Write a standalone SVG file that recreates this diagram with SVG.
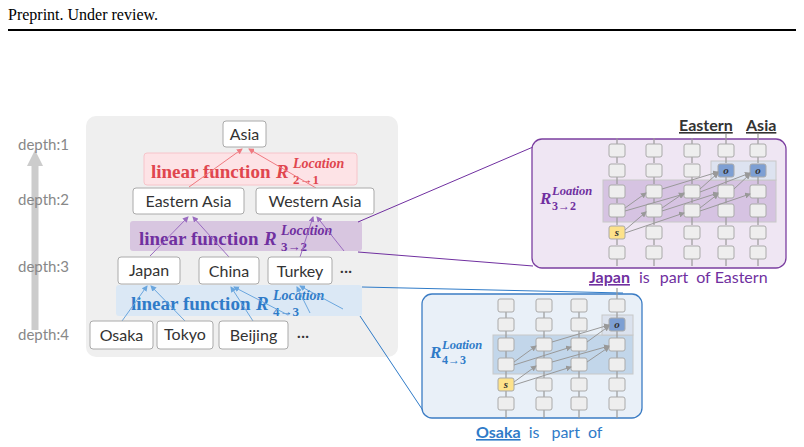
<svg xmlns="http://www.w3.org/2000/svg" width="804" height="447" viewBox="0 0 804 447">
<style>
.hdr{font-family:"Liberation Serif",serif;font-size:16px;fill:#000}
.dep{font-family:"Lato","Liberation Sans",sans-serif;font-size:15px;fill:#888}
.nd rect{fill:#fff;stroke:#aaa;stroke-width:1}
.nd text,.dots{font-family:"Lato","Liberation Sans",sans-serif;font-size:16px;fill:#333;text-anchor:middle}
.lf{font-family:"Liberation Serif",serif;font-weight:bold;font-size:19px}
.sup{font-family:"Liberation Serif",serif;font-weight:bold;font-size:14px;font-style:italic}
.sub{font-family:"Liberation Serif",serif;font-weight:bold;font-size:13px}
.gb{fill:#eee;stroke:#aaa;stroke-width:1}
.dg{stroke:#999;stroke-width:1;fill:none;marker-end:url(#ga)}
.wd{font-family:"Lato","Liberation Sans",sans-serif;font-size:16px}
</style>
<defs>
<marker id="ga" markerWidth="6" markerHeight="6" refX="5" refY="3" orient="auto"><path d="M0,0L6,3L0,6z" fill="#999"/></marker>
<marker id="ra" markerWidth="6" markerHeight="6" refX="5" refY="3" orient="auto"><path d="M0,0L6,3L0,6z" fill="#ef7a80"/></marker>
<marker id="pa" markerWidth="6" markerHeight="6" refX="5" refY="3" orient="auto"><path d="M0,0L6,3L0,6z" fill="#9a6cc0"/></marker>
<marker id="ba" markerWidth="6" markerHeight="6" refX="5" refY="3" orient="auto"><path d="M0,0L6,3L0,6z" fill="#6aa6de"/></marker>
</defs>
<rect width="804" height="447" fill="#fff"/>
<text class="hdr" x="8" y="20">Preprint. Under review.</text>
<line x1="8" y1="30" x2="796" y2="30" stroke="#000" stroke-width="2"/>

<g id="depth">
<line x1="35" y1="330" x2="35" y2="165" stroke="#ccc" stroke-width="7"/>
<polygon points="27,166 43,166 35,150" fill="#ccc"/>
<text class="dep" x="18" y="150">depth:1</text>
<text class="dep" x="18" y="205">depth:2</text>
<text class="dep" x="18" y="272">depth:3</text>
<text class="dep" x="18" y="340">depth:4</text>
</g>

<rect x="86" y="116" width="312" height="241" rx="10" fill="#efefef"/>

<g id="bands">
<rect x="144" y="153" width="213" height="32" rx="3" fill="#fde3e6" stroke="#f7c4ca"/>
<rect x="130" y="221" width="232" height="30" rx="3" fill="#d8c6e0"/>
<rect x="116" y="285" width="246" height="31" rx="3" fill="#dbe8f5"/>
<g fill="#e0464e">
<text class="lf" x="151" y="178">linear function</text>
<text class="lf" x="276" y="178" font-style="italic">R</text>
<text class="sup" x="293" y="168">Location</text>
<text class="sub" x="293" y="184">2→1</text>
</g>
<g fill="#7030a0">
<text class="lf" x="139" y="245">linear function</text>
<text class="lf" x="264" y="245" font-style="italic">R</text>
<text class="sup" x="281" y="235">Location</text>
<text class="sub" x="281" y="251">3→2</text>
</g>
<g fill="#2f7bc8">
<text class="lf" x="131" y="310">linear function</text>
<text class="lf" x="256" y="310" font-style="italic">R</text>
<text class="sup" x="273" y="300">Location</text>
<text class="sub" x="273" y="316">4→3</text>
</g>
</g>

<g id="connectors" fill="none">
<line x1="189" y1="187" x2="242" y2="149" stroke="#ef7a80" marker-end="url(#ra)"/>
<line x1="316" y1="188" x2="249" y2="149" stroke="#ef7a80" marker-end="url(#ra)"/>
<line x1="150" y1="256" x2="188" y2="217" stroke="#9a6cc0" marker-end="url(#pa)"/>
<line x1="229" y1="257" x2="193" y2="217" stroke="#9a6cc0" marker-end="url(#pa)"/>
<line x1="300" y1="257" x2="313" y2="217" stroke="#9a6cc0" marker-end="url(#pa)"/>
<line x1="344" y1="251" x2="317" y2="217" stroke="#9a6cc0" marker-end="url(#pa)"/>
<line x1="122" y1="321" x2="147" y2="286" stroke="#6aa6de" marker-end="url(#ba)"/>
<line x1="185" y1="321" x2="151" y2="286" stroke="#6aa6de" marker-end="url(#ba)"/>
<line x1="253" y1="321" x2="231" y2="287" stroke="#6aa6de" marker-end="url(#ba)"/>
<line x1="288" y1="315" x2="234" y2="287" stroke="#6aa6de" marker-end="url(#ba)"/>
<line x1="343" y1="309" x2="300" y2="286" stroke="#6aa6de" marker-end="url(#ba)"/>
<line x1="310" y1="313" x2="297" y2="287" stroke="#6aa6de" marker-end="url(#ba)"/>
<line x1="358" y1="222" x2="533" y2="147" stroke="#7030a0"/>
<line x1="358" y1="252" x2="533" y2="266" stroke="#7030a0"/>
<line x1="362" y1="287" x2="623" y2="293" stroke="#2f7bc8"/>
<line x1="360" y1="316" x2="424" y2="412" stroke="#2f7bc8"/>
</g>

<g id="n-asia" class="nd"><rect x="223" y="121" width="43" height="26" rx="3"/><text x="244.5" y="140">Asia</text></g>
<g id="n-eastern-asia" class="nd"><rect x="133" y="188" width="111" height="26" rx="3"/><text x="188.5" y="207">Eastern Asia</text></g>
<g id="n-western-asia" class="nd"><rect x="256" y="188" width="118" height="26" rx="3"/><text x="315" y="207">Western Asia</text></g>
<g id="n-japan" class="nd"><rect x="118" y="257" width="62" height="27" rx="3"/><text x="149" y="276">Japan</text></g>
<g id="n-china" class="nd"><rect x="199" y="257" width="60" height="27" rx="3"/><text x="229" y="277">China</text></g>
<g id="n-turkey" class="nd"><rect x="268" y="257" width="64" height="27" rx="3"/><text x="300" y="277">Turkey</text></g>
<text class="dots" x="346" y="276">···</text>
<g id="n-osaka" class="nd"><rect x="90" y="321" width="63" height="28" rx="3"/><text x="121.5" y="341">Osaka</text></g>
<g id="n-tokyo" class="nd"><rect x="157" y="321" width="56" height="28" rx="3"/><text x="185" y="340">Tokyo</text></g>
<g id="n-beijing" class="nd"><rect x="219" y="321" width="69" height="28" rx="3"/><text x="253.5" y="341">Beijing</text></g>
<text class="dots" x="303" y="341">···</text>

<g id="panel-purple">
<rect x="532" y="139" width="254" height="129" rx="10" fill="#efe6f3" stroke="#7b3fa0" stroke-width="1.3"/>
<rect x="603" y="180" width="173" height="42" fill="#d6c3e2" stroke="#c8c8c8"/>
<rect x="711" y="161" width="65" height="19" fill="#dde3f0" stroke="#c8c8c8"/>
<g stroke="#999" stroke-width="1.2">
<line x1="617" y1="259" x2="617" y2="266"/><line x1="654" y1="259" x2="654" y2="266"/><line x1="692" y1="259" x2="692" y2="266"/><line x1="726" y1="259" x2="726" y2="266"/><line x1="758" y1="259" x2="758" y2="266"/>
<line x1="617" y1="144" x2="617" y2="138"/><line x1="654" y1="144" x2="654" y2="138"/><line x1="692" y1="144" x2="692" y2="138"/><line x1="726" y1="144" x2="726" y2="134"/><line x1="758" y1="144" x2="758" y2="134"/>
<line x1="617" y1="157" x2="617" y2="163"/><line x1="617" y1="177" x2="617" y2="184"/><line x1="617" y1="198" x2="617" y2="203"/><line x1="617" y1="217" x2="617" y2="225"/><line x1="617" y1="239" x2="617" y2="245"/>
<line x1="654" y1="157" x2="654" y2="163"/><line x1="654" y1="177" x2="654" y2="184"/><line x1="654" y1="198" x2="654" y2="203"/><line x1="654" y1="217" x2="654" y2="225"/><line x1="654" y1="239" x2="654" y2="245"/>
<line x1="692" y1="157" x2="692" y2="163"/><line x1="692" y1="177" x2="692" y2="184"/><line x1="692" y1="198" x2="692" y2="203"/><line x1="692" y1="217" x2="692" y2="225"/><line x1="692" y1="239" x2="692" y2="245"/>
<line x1="726" y1="157" x2="726" y2="163"/><line x1="726" y1="177" x2="726" y2="184"/><line x1="726" y1="198" x2="726" y2="203"/><line x1="726" y1="217" x2="726" y2="225"/><line x1="726" y1="239" x2="726" y2="245"/>
<line x1="758" y1="157" x2="758" y2="163"/><line x1="758" y1="177" x2="758" y2="184"/><line x1="758" y1="198" x2="758" y2="203"/><line x1="758" y1="217" x2="758" y2="225"/><line x1="758" y1="239" x2="758" y2="245"/>
</g>
<g class="gb">
<rect x="609" y="144" width="16" height="13" rx="2"/><rect x="646" y="144" width="16" height="13" rx="2"/><rect x="684" y="144" width="16" height="13" rx="2"/><rect x="718" y="144" width="16" height="13" rx="2"/><rect x="750" y="144" width="16" height="13" rx="2"/>
<rect x="609" y="164" width="16" height="13" rx="2"/><rect x="646" y="164" width="16" height="13" rx="2"/><rect x="684" y="164" width="16" height="13" rx="2"/>
<rect x="609" y="185" width="16" height="13" rx="2"/><rect x="646" y="185" width="16" height="13" rx="2"/><rect x="684" y="185" width="16" height="13" rx="2"/><rect x="718" y="185" width="16" height="13" rx="2"/><rect x="750" y="185" width="16" height="13" rx="2"/>
<rect x="609" y="204" width="16" height="13" rx="2"/><rect x="646" y="204" width="16" height="13" rx="2"/><rect x="684" y="204" width="16" height="13" rx="2"/><rect x="718" y="204" width="16" height="13" rx="2"/><rect x="750" y="204" width="16" height="13" rx="2"/>
<rect x="646" y="226" width="16" height="13" rx="2"/><rect x="684" y="226" width="16" height="13" rx="2"/><rect x="718" y="226" width="16" height="13" rx="2"/><rect x="750" y="226" width="16" height="13" rx="2"/>
<rect x="609" y="246" width="16" height="13" rx="2"/><rect x="646" y="246" width="16" height="13" rx="2"/><rect x="684" y="246" width="16" height="13" rx="2"/><rect x="718" y="246" width="16" height="13" rx="2"/><rect x="750" y="246" width="16" height="13" rx="2"/>
</g>
<rect x="609" y="226" width="16" height="13" rx="2" fill="#fde28a" stroke="#aaa"/>
<rect x="718" y="164" width="16" height="13" rx="2" fill="#7d9fd3" stroke="#aaa"/>
<rect x="750" y="164" width="16" height="13" rx="2" fill="#7d9fd3" stroke="#aaa"/>
<g font-family="Liberation Serif,serif" font-weight="bold" font-style="italic" font-size="11" fill="#333" text-anchor="middle">
<text x="617" y="236">s</text><text x="726" y="174">o</text><text x="758" y="174">o</text>
</g>
<g class="dg">
<line x1="625" y1="230" x2="646" y2="212"/><line x1="625" y1="233" x2="684" y2="213"/>
<line x1="625" y1="208" x2="646" y2="193"/><line x1="625" y1="211" x2="684" y2="194"/>
<line x1="662" y1="208" x2="684" y2="193"/><line x1="662" y1="211" x2="718" y2="193"/>
<line x1="700" y1="208" x2="718" y2="194"/><line x1="700" y1="211" x2="750" y2="194"/>
<line x1="662" y1="189" x2="718" y2="172"/><line x1="700" y1="189" x2="718" y2="173"/>
<line x1="700" y1="192" x2="750" y2="173"/><line x1="734" y1="189" x2="750" y2="174"/>
</g>
<g fill="#7030a0">
<text x="540" y="204" font-family="Liberation Serif,serif" font-weight="bold" font-style="italic" font-size="17">R</text>
<text x="552" y="195" font-family="Liberation Serif,serif" font-weight="bold" font-style="italic" font-size="12.5">Loation</text>
<text x="552" y="210" font-family="Liberation Serif,serif" font-weight="bold" font-size="12">3→2</text>
</g>
<g class="wd" font-weight="bold" font-size="16.5" fill="#333" text-decoration="underline"><text x="679" y="131">Eastern</text><text x="746" y="131">Asia</text></g>
<text class="wd" x="589" y="283" fill="#7030a0"><tspan font-weight="bold" text-decoration="underline">Japan</tspan><tspan dx="9">is</tspan><tspan dx="10">part</tspan><tspan dx="8">of</tspan><tspan dx="4">Eastern</tspan></text>
</g>

<g id="panel-blue">
<rect x="422" y="294" width="220" height="124" rx="10" fill="#e9f0f8" stroke="#3b7cc4" stroke-width="1.3"/>
<rect x="493" y="335" width="140" height="39" fill="#c2d6ea" stroke="#c8c8c8"/>
<rect x="602" y="315" width="31" height="20" fill="#dbe2ee" stroke="#c8c8c8"/>
<g stroke="#999" stroke-width="1.2">
<line x1="506" y1="410" x2="506" y2="418"/><line x1="544" y1="410" x2="544" y2="418"/><line x1="579" y1="410" x2="579" y2="418"/><line x1="617" y1="410" x2="617" y2="418"/>
<line x1="617" y1="299" x2="617" y2="288"/>
<line x1="506" y1="312" x2="506" y2="318"/><line x1="506" y1="331" x2="506" y2="338"/><line x1="506" y1="351" x2="506" y2="358"/><line x1="506" y1="371" x2="506" y2="378"/><line x1="506" y1="391" x2="506" y2="397"/>
<line x1="544" y1="312" x2="544" y2="318"/><line x1="544" y1="331" x2="544" y2="338"/><line x1="544" y1="351" x2="544" y2="358"/><line x1="544" y1="371" x2="544" y2="378"/><line x1="544" y1="391" x2="544" y2="397"/>
<line x1="579" y1="312" x2="579" y2="318"/><line x1="579" y1="331" x2="579" y2="338"/><line x1="579" y1="351" x2="579" y2="358"/><line x1="579" y1="371" x2="579" y2="378"/><line x1="579" y1="391" x2="579" y2="397"/>
<line x1="617" y1="312" x2="617" y2="318"/><line x1="617" y1="331" x2="617" y2="338"/><line x1="617" y1="351" x2="617" y2="358"/><line x1="617" y1="371" x2="617" y2="378"/><line x1="617" y1="391" x2="617" y2="397"/>
</g>
<g class="gb">
<rect x="498" y="299" width="16" height="13" rx="2"/><rect x="536" y="299" width="16" height="13" rx="2"/><rect x="571" y="299" width="16" height="13" rx="2"/><rect x="609" y="299" width="16" height="13" rx="2"/>
<rect x="498" y="318" width="16" height="13" rx="2"/><rect x="536" y="318" width="16" height="13" rx="2"/><rect x="571" y="318" width="16" height="13" rx="2"/>
<rect x="498" y="338" width="16" height="13" rx="2"/><rect x="536" y="338" width="16" height="13" rx="2"/><rect x="571" y="338" width="16" height="13" rx="2"/><rect x="609" y="338" width="16" height="13" rx="2"/>
<rect x="498" y="358" width="16" height="13" rx="2"/><rect x="536" y="358" width="16" height="13" rx="2"/><rect x="571" y="358" width="16" height="13" rx="2"/><rect x="609" y="358" width="16" height="13" rx="2"/>
<rect x="536" y="378" width="16" height="13" rx="2"/><rect x="571" y="378" width="16" height="13" rx="2"/><rect x="609" y="378" width="16" height="13" rx="2"/>
<rect x="498" y="397" width="16" height="13" rx="2"/><rect x="536" y="397" width="16" height="13" rx="2"/><rect x="571" y="397" width="16" height="13" rx="2"/><rect x="609" y="397" width="16" height="13" rx="2"/>
</g>
<rect x="498" y="378" width="16" height="13" rx="2" fill="#fde28a" stroke="#aaa"/>
<rect x="609" y="318" width="16" height="13" rx="2" fill="#7d9fd3" stroke="#aaa"/>
<g font-family="Liberation Serif,serif" font-weight="bold" font-style="italic" font-size="11" fill="#333" text-anchor="middle">
<text x="506" y="388">s</text><text x="617" y="328">o</text>
</g>
<g class="dg">
<line x1="514" y1="382" x2="536" y2="366"/><line x1="514" y1="385" x2="571" y2="367"/>
<line x1="514" y1="362" x2="536" y2="346"/><line x1="514" y1="365" x2="571" y2="347"/>
<line x1="552" y1="362" x2="609" y2="346"/><line x1="552" y1="342" x2="609" y2="325"/>
<line x1="587" y1="362" x2="609" y2="347"/><line x1="587" y1="342" x2="609" y2="326"/>
</g>
<g fill="#2f7bc8">
<text x="430" y="358" font-family="Liberation Serif,serif" font-weight="bold" font-style="italic" font-size="17">R</text>
<text x="442" y="349" font-family="Liberation Serif,serif" font-weight="bold" font-style="italic" font-size="12.5">Loation</text>
<text x="442" y="364" font-family="Liberation Serif,serif" font-weight="bold" font-size="12">4→3</text>
</g>
<text class="wd" x="476" y="438" fill="#2f7bc8"><tspan font-weight="bold" text-decoration="underline">Osaka</tspan><tspan dx="8">is</tspan><tspan dx="12">part</tspan><tspan dx="8">of</tspan></text>
</g>
</svg>
